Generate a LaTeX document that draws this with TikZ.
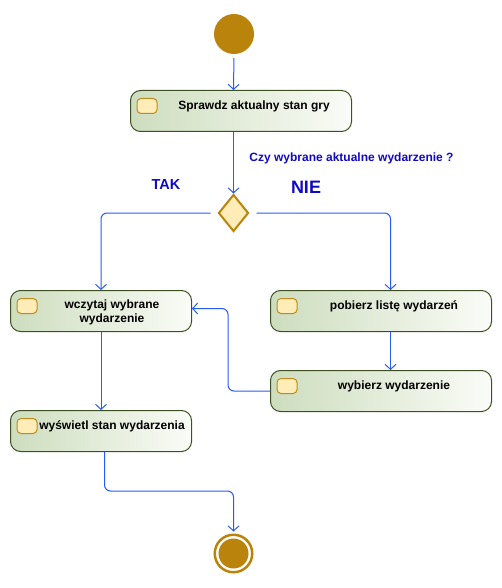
\documentclass[tikz,border=0pt]{standalone}
\usepackage{fontspec}
\setmainfont{Liberation Sans}
\usetikzlibrary{shapes.geometric, arrows.meta, positioning}

\definecolor{flowblue}{RGB}{40,90,250}
\definecolor{guardblue}{RGB}{15,10,195}
\definecolor{gold}{RGB}{186,131,11}
\definecolor{iconfill}{RGB}{255,236,182}
\definecolor{iconline}{RGB}{190,140,30}
\definecolor{boxline}{RGB}{60,80,35}
\definecolor{boxleft}{RGB}{205,221,190}
\definecolor{boxright}{RGB}{250,252,247}

\begin{document}
\begin{tikzpicture}[
    x=1pt, y=-1pt,
    flow/.style={draw=flowblue, line width=1pt, rounded corners=6pt, -{Straight Barb[length=5pt,width=11pt]}},
    actbox/.style={rectangle, rounded corners=10pt, draw=boxline, line width=1pt, left color=boxleft, right color=boxright,
                   minimum width=221pt, minimum height=41pt, inner sep=0pt, anchor=north west},
    acticon/.style={rectangle, rounded corners=4pt, draw=iconline, line width=1pt, fill=iconfill,
                    minimum width=20pt, minimum height=15pt, inner sep=0pt},
    acttext/.style={font=\bfseries\fontsize{12}{14}\selectfont, align=center, inner sep=0pt},
    guard/.style={text=guardblue, inner sep=0pt}
]
    \useasboundingbox (0,0) rectangle (501,588);

    % Start / end
    \node[circle, fill=gold, minimum size=40pt, inner sep=0pt] (start) at (234,34) {};
    \node[circle, draw=gold, line width=2.5pt, fill=white, minimum size=37.5pt, inner sep=0pt] (stop) at (233.5,553.5) {};
    \node[circle, fill=gold, minimum size=30pt, inner sep=0pt] (stopdot) at (stop) {};

    % Actions
    \node[actbox] (check) at (130,90) {};
    \node[actbox, minimum width=181pt] (read) at (10,290) {};
    \node[actbox] (list) at (270,290) {};
    \node[actbox] (pick) at (270,370) {};
    \node[actbox, minimum width=181pt] (show) at (10,410) {};

    \foreach \act in {check, read, list, pick, show}
        \node[acticon] (\act icon) at ([xshift=17pt, yshift=5pt]\act.west) {};

    \node[acttext] (checktext) at (254,106) {Sprawdz aktualny stan gry};
    \node[acttext] (readtext) at (112,312) {wczytaj wybrane\\wydarzenie};
    \node[acttext] (listtext) at (394,306) {pobierz listę wydarzeń};
    \node[acttext] (picktext) at (394,386) {wybierz wydarzenie};
    \node[acttext] (showtext) at (112,426) {wyświetl stan wydarzenia};

    % Decision
    \node[diamond, draw=gold, line width=2pt, fill=iconfill, minimum width=30pt, minimum height=37pt, inner sep=0pt] (decide) at (233.5,213) {};

    \node[guard, font=\bfseries\fontsize{12}{14}\selectfont] (question) at (351.5,158) {Czy wybrane aktualne wydarzenie ?};
    \node[guard, font=\bfseries\fontsize{14.5}{16}\selectfont] (yes) at (166,185) {TAK};
    \node[guard, font=\bfseries\fontsize{18}{20}\selectfont] (no) at (306,187) {NIE};

    % Transitions
    \draw[flow, shorten <=4pt] (start.south) -- ([xshift=-7.5pt]check.north);
    \draw[flow] ([xshift=-7.5pt]check.south) -- (decide.north);
    \draw[flow, shorten <=7pt] (decide.west) -| (read.north);
    \draw[flow, shorten <=7pt] (decide.east) -| ([xshift=9.5pt]list.north);
    \draw[flow] ([xshift=9.5pt]list.south) -- ([xshift=9.5pt]pick.north);
    \draw[flow] (pick.west) -- ++(-42,0) |- ([yshift=2.5pt]read.east);
    \draw[flow] (read.south) -- (show.north);
    \draw[flow, shorten >=2pt] ([xshift=3.5pt]show.south) -- ++(0,39) -| (stop.north);

\end{tikzpicture}
\end{document}
